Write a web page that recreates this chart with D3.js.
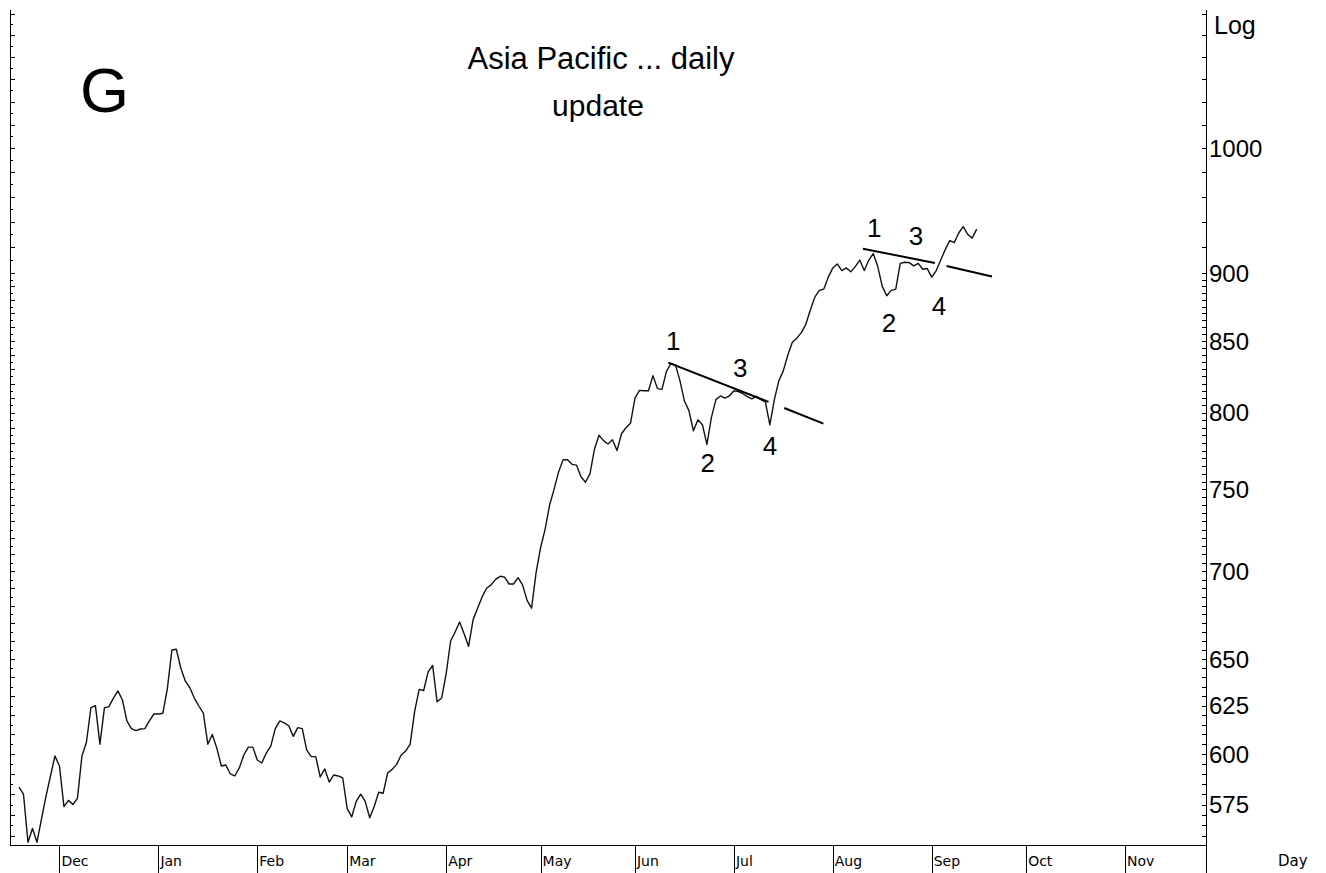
<!DOCTYPE html>
<html>
<head>
<meta charset="utf-8">
<script src="https://cdn.jsdelivr.net/npm/d3@7"></script>
<style>
  body { margin: 0; background: #fff; }
  svg text { font-family: "Liberation Sans", Arial, sans-serif; fill: #000; }
  .month { font-family: "DejaVu Sans", Tahoma, sans-serif; font-size: 14px; }
</style>
</head>
<body>
<div id="chart"></div>
<script>
// daily closes, one per trading day, starting at trading-day index 2
const closes = [
  583.5, 580, 557, 563.5, 557, 568, 579, 589, 599, 594,
  574, 577, 575, 578, 599, 606, 624, 625, 605, 623.8,
  624.5, 629, 632.8, 628, 617, 613, 612, 612.8, 613, 617,
  620.6, 620.6, 621, 634, 655, 655.4, 645, 638, 634.5, 629,
  624.8, 621, 605, 610, 603, 594, 594.5, 590, 589, 593,
  599.5, 603.5, 603.5, 597, 595.5, 600.5, 604, 613, 617, 616,
  614.5, 609, 613.5, 613, 602, 598.7, 598.7, 588.5, 592.5, 586,
  589.5, 589, 588, 573, 569, 576.5, 580, 576.5, 568.6, 574,
  581, 580.5, 590.5, 592.3, 594.8, 599.5, 601.5, 605, 622, 633.6,
  633, 643, 646.5, 627, 629, 642, 660, 665, 670.7, 664,
  657, 672, 678.5, 685, 690, 692, 695.2, 697, 696.5, 692.5,
  692.5, 696.2, 692, 683, 678.5, 699, 714, 725, 740, 750,
  761, 769, 769, 766, 765.5, 758, 754.5, 760, 776, 785,
  781.5, 779.3, 782, 775, 786, 790, 793, 810, 815.3, 815,
  815, 825.5, 816.5, 816, 828.5, 834, 833, 822, 808, 801.5,
  788, 795.3, 792, 779, 797, 809, 811.5, 810, 811.5, 815,
  814.5, 813, 811, 809.5, 811.2, 808.9, 807.5, 792, 809, 822,
  829, 840, 849, 852, 856, 862, 872.5, 882, 887, 888,
  897, 904, 907, 902, 904, 901, 905, 910, 902, 910,
  915, 905, 890, 883, 887, 888, 907.5, 908.3, 908, 905.5,
  907.5, 903, 903.5, 897, 902, 910, 918, 925, 923.4, 931,
  936, 930, 927, 934
];
const startIndex = 2;
const lastIndex = 266;

const monthNames = ["Dec", "Jan", "Feb", "Mar", "Apr", "May", "Jun", "Jul", "Aug", "Sep", "Oct", "Nov"];
const monthStarts = [11, 33, 55, 75, 97, 118, 139, 161, 183, 205, 226, 248];

const priceLabels = [575, 600, 625, 650, 700, 750, 800, 850, 900, 1000];
const priceMin = 555.7;
const priceMax = 1123.6;

// Elliott wave annotations: trend line pieces and count labels
const trendLines = [
  [[146.4, 834.6], [168.7, 807.4]],
  [[172.2, 803.3], [180.9, 792.8]],
  [[189.7, 918.8], [205.7, 907.7]],
  [[208.3, 905.5], [218.4, 897.4]]
];
const waveLabels = [
  { t: "1", i: 147.5, v: 843.3 },
  { t: "2", i: 155.2, v: 760.8 },
  { t: "3", i: 162.4, v: 824.3 },
  { t: "4", i: 169.0, v: 771.8 },
  { t: "1", i: 192.2, v: 927.6 },
  { t: "2", i: 195.5, v: 856.2 },
  { t: "3", i: 201.5, v: 921.4 },
  { t: "4", i: 206.6, v: 868.6 }
];

const width = 1326, height = 873;
const plot = { left: 10, right: 1206, top: 10, bottom: 845 };

const svg = d3.select("#chart").append("svg")
  .attr("width", width)
  .attr("height", height);

const x = d3.scaleLinear().domain([0, lastIndex]).range([plot.left, plot.right]);
const y = d3.scaleLog().domain([priceMin, priceMax]).range([plot.bottom, plot.top]);

// minor tick values: every 5 below 900, every 10 / 20 above
const leftTicks = d3.range(560, 900, 5).concat(d3.range(900, 1121, 10));
const rightTicks = d3.range(560, 900, 5).concat(d3.range(900, 1121, 20));

// frame
svg.append("line")
  .attr("x1", plot.left + 0.5).attr("x2", plot.left + 0.5)
  .attr("y1", plot.top).attr("y2", plot.bottom)
  .attr("stroke", "#000");
svg.append("line")
  .attr("x1", plot.right + 0.5).attr("x2", plot.right + 0.5)
  .attr("y1", plot.top).attr("y2", height)
  .attr("stroke", "#000");
svg.append("line")
  .attr("x1", plot.left).attr("x2", plot.right)
  .attr("y1", plot.bottom + 0.5).attr("y2", plot.bottom + 0.5)
  .attr("stroke", "#000");

// left ticks
svg.append("g").selectAll("line")
  .data(leftTicks)
  .join("line")
  .attr("x1", plot.left)
  .attr("x2", d => {
    const major = d >= 900 ? d % 20 === 0 : d % 10 === 0;
    return plot.left + (major ? 5 : 3);
  })
  .attr("y1", d => Math.round(y(d)) + 0.5)
  .attr("y2", d => Math.round(y(d)) + 0.5)
  .attr("stroke", "#000");

// right ticks
svg.append("g").selectAll("line")
  .data(rightTicks)
  .join("line")
  .attr("x1", plot.right + 0.5)
  .attr("x2", plot.right - 4)
  .attr("y1", d => Math.round(y(d)) + 0.5)
  .attr("y2", d => Math.round(y(d)) + 0.5)
  .attr("stroke", "#000");

svg.append("g").selectAll("text")
  .data(priceLabels)
  .join("text")
  .attr("x", plot.right + 3)
  .attr("y", d => y(d))
  .attr("dy", "0.36em")
  .style("font-size", "24px")
  .text(d => d);

// month separators and labels
svg.append("g").selectAll("line")
  .data(monthStarts)
  .join("line")
  .attr("x1", d => Math.round(x(d)) + 0.5)
  .attr("x2", d => Math.round(x(d)) + 0.5)
  .attr("y1", plot.bottom)
  .attr("y2", height)
  .attr("stroke", "#000");

svg.append("g").selectAll("text")
  .data(monthStarts)
  .join("text")
  .attr("class", "month")
  .attr("x", d => x(d) + 2)
  .attr("y", 866)
  .text((d, i) => monthNames[i]);

svg.append("text")
  .attr("class", "month")
  .attr("x", 1278)
  .attr("y", 866)
  .style("font-size", "15px")
  .text("Day");

// price line
const line = d3.line()
  .x((d, i) => x(startIndex + i))
  .y(d => y(d));

svg.append("path")
  .datum(closes)
  .attr("fill", "none")
  .attr("stroke", "#111")
  .attr("stroke-width", 1.4)
  .attr("stroke-linejoin", "round")
  .attr("d", line);

// trend lines
svg.append("g").selectAll("line")
  .data(trendLines)
  .join("line")
  .attr("x1", d => x(d[0][0]))
  .attr("y1", d => y(d[0][1]))
  .attr("x2", d => x(d[1][0]))
  .attr("y2", d => y(d[1][1]))
  .attr("stroke", "#000")
  .attr("stroke-width", 2);

svg.append("g").selectAll("text")
  .data(waveLabels)
  .join("text")
  .attr("x", d => x(d.i))
  .attr("y", d => y(d.v))
  .attr("text-anchor", "middle")
  .style("font-size", "26px")
  .text(d => d.t);

// titles
svg.append("text")
  .attr("x", 601)
  .attr("y", 69)
  .attr("text-anchor", "middle")
  .style("font-size", "31px")
  .text("Asia Pacific ... daily");

svg.append("text")
  .attr("x", 598)
  .attr("y", 116)
  .attr("text-anchor", "middle")
  .style("font-size", "30px")
  .text("update");

svg.append("text")
  .attr("x", 80)
  .attr("y", 112)
  .style("font-size", "63px")
  .text("G");

svg.append("text")
  .attr("x", 1214)
  .attr("y", 34)
  .style("font-size", "25px")
  .text("Log");
</script>
</body>
</html>
